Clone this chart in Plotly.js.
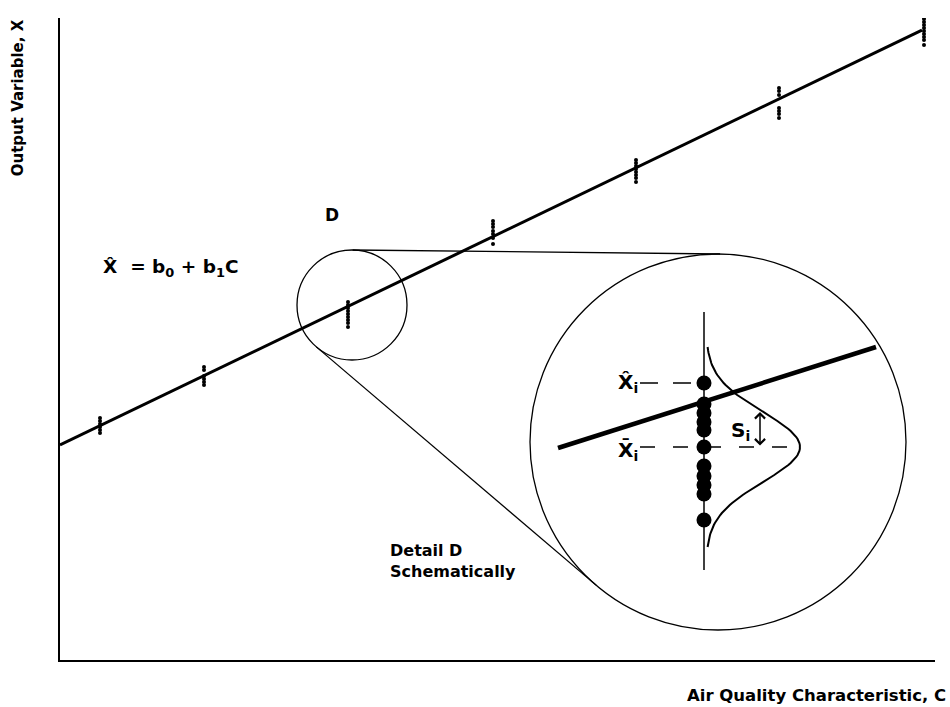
<!DOCTYPE html>
<html>
<head>
<meta charset="utf-8">
<script src="https://cdn.plot.ly/plotly-3.0.1.min.js"></script>
<style>
  html, body { margin: 0; padding: 0; background: #fff; }
  #plot { width: 950px; height: 707px; }
</style>
</head>
<body>
<div id="plot"></div>
<script>
// Air quality characteristic (C) of each sample group, in chart units
var groupC = [40, 144, 288, 433, 576, 719, 864];
// Observed output (X) of every replicate in each group
var groupX = [
    [242, 239, 236, 233, 230, 227],
    [293, 290, 284, 281, 278, 275],
    [358, 355, 352, 349, 346, 343, 340, 337, 333],
    [439, 436, 433, 429, 426, 422, 416],
    [500, 497, 494, 491, 488, 485, 482, 478],
    [572, 569, 565, 552, 549, 546, 542],
    [641, 638, 635, 632, 629, 626, 623, 620, 615]
];
// Fitted line  X^ = b0 + b1 C
var b0 = 215;
var b1 = 0.4814;
var cEnd = 862;

// Detail D: small circle and the enlarged circle
var detailSmall = {c: 292, x: 355, r: 55};
var detailBig = {c: 658, x: 218, r: 188};

// Inside the enlargement
var detailC = 644;                       // vertical line of group i
var detailSpan = [90, 348];
var detailLineC = [498, 816];            // thick fitted line
var detailLineX = [212, 313];
var detailDots = [277, 256, 247, 238, 230, 213, 194, 184, 175, 166, 140];
var xHat = 277;                          // X^i level
var xBar = 213;                          // Xbar i level
var sdI = 35;                            // S_i
var bellBase = 646;
var bellHeight = 94;

var font = 'DejaVu Sans, Verdana, sans-serif';

// flatten replicate points
var ptC = [], ptX = [];
groupC.forEach(function (c, i) {
    groupX[i].forEach(function (x) { ptC.push(c); ptX.push(x); });
});

// outer tangent lines between the two circles
function tangents(a, b) {
    var dx = b.c - a.c, dy = b.x - a.x;
    var d = Math.sqrt(dx * dx + dy * dy);
    var ux = dx / d, uy = dy / d;
    var cs = (a.r - b.r) / d, sn = Math.sqrt(1 - cs * cs);
    return [1, -1].map(function (s) {
        var nx = ux * cs - s * uy * sn;
        var ny = uy * cs + s * ux * sn;
        return {x: [a.c + a.r * nx, b.c + b.r * nx], y: [a.x + a.r * ny, b.x + b.r * ny]};
    });
}
var tl = tangents(detailSmall, detailBig);

// sideways normal curve around Xbar i
var bellC = [], bellX = [];
for (var y = xBar - 100; y <= xBar + 100; y += 2) {
    bellX.push(y);
    bellC.push(bellBase + bellHeight * Math.exp(-Math.pow(y - xBar, 2) / (2 * sdI * sdI)));
}

var black = '#000';
var data = [
    {x: [0, cEnd], y: [b0, b0 + b1 * cEnd], mode: 'lines', line: {color: black, width: 3}},
    {x: ptC, y: ptX, mode: 'markers', marker: {color: black, size: 4}},
    {x: tl[0].x, y: tl[0].y, mode: 'lines', line: {color: black, width: 1.3}},
    {x: tl[1].x, y: tl[1].y, mode: 'lines', line: {color: black, width: 1.3}},
    {x: [detailC, detailC], y: detailSpan, mode: 'lines', line: {color: black, width: 1.5}},
    {x: [580, 638], y: [xHat, xHat], mode: 'lines', line: {color: black, width: 1.5, dash: '18px,15px'}},
    {x: [580, 738], y: [xBar, xBar], mode: 'lines', line: {color: black, width: 1.5, dash: '15px,18px'}},
    {x: detailLineC, y: detailLineX, mode: 'lines', line: {color: black, width: 4.5}},
    {x: bellC, y: bellX, mode: 'lines', line: {color: black, width: 2}},
    {x: detailDots.map(function () { return detailC; }), y: detailDots, mode: 'markers',
        marker: {color: black, size: 15}}
];

function circle(o) {
    return {type: 'circle', xref: 'x', yref: 'y', x0: o.c - o.r, x1: o.c + o.r,
        y0: o.x - o.r, y1: o.x + o.r, line: {color: black, width: 1.3}};
}

function label(txt, x, y, size, opts) {
    var a = {x: x, y: y, xref: 'x', yref: 'y', text: '<b>' + txt + '</b>', showarrow: false,
        font: {family: font, size: size, color: black}};
    for (var k in opts) a[k] = opts[k];
    return a;
}

var layout = {
    width: 950,
    height: 707,
    margin: {l: 60, r: 15, t: 18, b: 47},
    paper_bgcolor: '#fff',
    plot_bgcolor: '#fff',
    showlegend: false,
    xaxis: {range: [0, 875], showline: true, linecolor: black, linewidth: 2,
        showgrid: false, zeroline: false, showticklabels: false, ticks: '', fixedrange: true},
    yaxis: {range: [0, 642], showline: true, linecolor: black, linewidth: 2,
        showgrid: false, zeroline: false, showticklabels: false, ticks: '', fixedrange: true},
    shapes: [circle(detailSmall), circle(detailBig)],
    annotations: [
        label('Output Variable, X', -0.048, 0.875, 15, {xref: 'paper', yref: 'paper', textangle: -90,
            xanchor: 'center', yanchor: 'middle'}),
        label('Air Quality Characteristic, C', 0.864, -0.055, 16.5, {xref: 'paper', yref: 'paper',
            xanchor: 'center', yanchor: 'middle'}),
        label('X\u0302  = b<sub>0</sub> + b<sub>1</sub>C', 41, 392, 18.5, {xanchor: 'left'}),
        label('D', 272, 445, 17, {}),
        label('Detail D<br>Schematically', 328, 99, 16, {xanchor: 'left', align: 'left'}),
        label('X\u0302<sub>i</sub>', 580, xHat, 20, {xanchor: 'right'}),
        label('X\u0304<sub>i</sub>', 580, xBar - 4, 20, {xanchor: 'right'}),
        label('S<sub>i</sub>', 680, 229, 20, {}),
        {x: 700, y: 248, ax: 700, ay: xBar, xref: 'x', yref: 'y', axref: 'x', ayref: 'y',
            text: '', showarrow: true, arrowside: 'end+start', arrowhead: 4, arrowsize: 1.3,
            arrowwidth: 1.5, arrowcolor: black, standoff: 0, startstandoff: 0}
    ]
};

Plotly.newPlot('plot', data, layout, {displayModeBar: false, staticPlot: true});
</script>
</body>
</html>
